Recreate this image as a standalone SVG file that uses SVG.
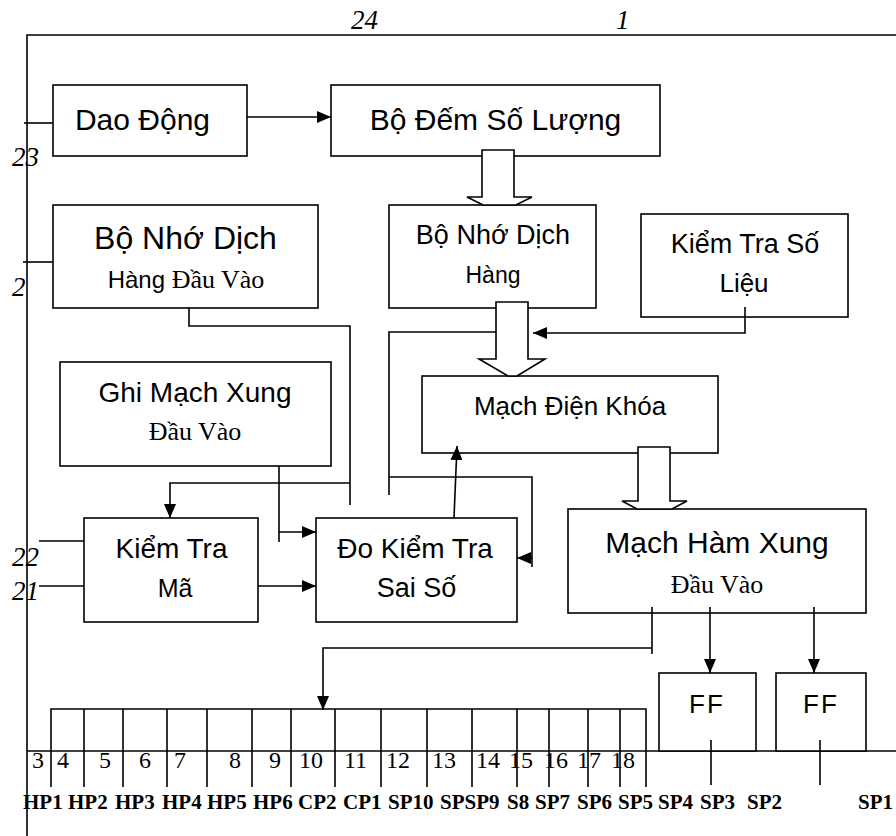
<svg xmlns="http://www.w3.org/2000/svg" width="896" height="836" viewBox="0 0 896 836">
<style>
.box{fill:#fff;stroke:#000;stroke-width:1.6}
.ln{fill:none;stroke:#000;stroke-width:1.6}
.ha{fill:#fff;stroke:#000;stroke-width:1.6;stroke-linejoin:miter}
.t{font-family:"Liberation Sans",Arial,sans-serif;fill:#000;text-anchor:middle}
.sf{font-family:"Liberation Serif","Times New Roman",serif}
.num{font-family:"Liberation Serif","Times New Roman",serif;font-size:24px;fill:#000}
.it{font-family:"Liberation Serif","Times New Roman",serif;font-style:italic;font-size:27px;fill:#000}
.lab{font-family:"Liberation Serif","Times New Roman",serif;font-weight:bold;font-size:21px;fill:#000}
</style>
<defs>
<marker id="ah" markerUnits="userSpaceOnUse" markerWidth="14" markerHeight="12" refX="14" refY="6" orient="auto">
<path d="M0,0 L14,6 L0,12 z" fill="#000"/>
</marker>
</defs>
<rect width="896" height="836" fill="#fff"/>

<g id="frame" class="ln">
<path d="M27,836 V35 H896"/>
<path d="M27,751 H896"/>
</g>
<g id="frame-labels">
<text class="it" x="351" y="29">24</text>
<text class="it" x="616" y="29">1</text>
<text class="it" x="12" y="166">23</text>
<text class="it" x="12" y="296">2</text>
<text class="it" x="12" y="566">22</text>
<text class="it" x="12" y="600">21</text>
</g>

<g id="dao-dong">
<rect class="box" x="53" y="85" width="194" height="71"/>
<text class="t" x="142.5" y="130" font-size="30">Dao Động</text>
</g>
<g id="bo-dem">
<rect class="box" x="331" y="85" width="329" height="71"/>
<text class="t" x="495.5" y="130" font-size="30">Bộ Đếm Số Lượng</text>
</g>
<g id="bo-nho-dau-vao">
<rect class="box" x="53" y="205" width="265" height="103"/>
<text class="t" x="185.5" y="249" font-size="32">Bộ Nhớ Dịch</text>
<text class="t" x="186" y="288" font-size="24">Hàng <tspan class="sf" font-size="26">Đầu Vào</tspan></text>
</g>
<g id="bo-nho-hang">
<rect class="box" x="389" y="205" width="207" height="103"/>
<text class="t" x="493" y="244" font-size="27">Bộ Nhớ Dịch</text>
<text class="t" x="493" y="283" font-size="23">Hàng</text>
</g>
<g id="kiem-tra-so-lieu">
<rect class="box" x="641" y="214" width="207" height="103"/>
<text class="t" x="745" y="253" font-size="27">Kiểm Tra Số</text>
<text class="t" x="744" y="291.5" font-size="26">Liệu</text>
</g>
<g id="ghi-mach">
<rect class="box" x="60" y="362" width="271" height="104"/>
<text class="t" x="195" y="401.5" font-size="28">Ghi Mạch Xung</text>
<text class="t sf" x="195" y="440" font-size="26">Đầu Vào</text>
</g>
<g id="mach-dien-khoa">
<rect class="box" x="422" y="376" width="296" height="77"/>
<text class="t" x="570" y="415" font-size="26">Mạch Điện Khóa</text>
</g>
<g id="kiem-tra-ma">
<rect class="box" x="84" y="518" width="174" height="104"/>
<text class="t" x="171.5" y="558" font-size="28">Kiểm Tra</text>
<text class="t" x="175" y="597" font-size="25">Mã</text>
</g>
<g id="do-kiem-tra">
<rect class="box" x="316" y="518" width="201" height="104"/>
<text class="t" x="415" y="558" font-size="28">Đo Kiểm Tra</text>
<text class="t" x="416.5" y="597" font-size="27">Sai Số</text>
</g>
<g id="mach-ham-xung">
<rect class="box" x="568" y="509" width="298" height="104"/>
<text class="t" x="717" y="553" font-size="30">Mạch Hàm Xung</text>
<text class="t sf" x="717" y="593" font-size="26">Đầu Vào</text>
</g>
<g id="ff1">
<rect class="box" x="659" y="673" width="97" height="78"/>
<text class="t" x="707" y="713" font-size="26" letter-spacing="2">FF</text>
</g>
<g id="ff2">
<rect class="box" x="776" y="673" width="90" height="78"/>
<text class="t" x="821" y="713" font-size="26" letter-spacing="2">FF</text>
</g>

<g id="pin-strip">
<path class="ln" d="M51,787 V709 H646 V787 M84,709 V787 M123,709 V787 M167,709 V787 M207,709 V787 M252,709 V787 M291,709 V787 M335,709 V787 M381,709 V787 M427,709 V787 M472,709 V787 M517,709 V787 M549,709 V787 M588,709 V787 M620,709 V787"/>
<text class="num" x="32" y="768">3</text>
<text class="num" x="57" y="768">4</text>
<text class="num" x="99" y="768">5</text>
<text class="num" x="139" y="768">6</text>
<text class="num" x="174" y="768">7</text>
<text class="num" x="229" y="768">8</text>
<text class="num" x="269" y="768">9</text>
<text class="num" x="299" y="768">10</text>
<text class="num" x="344" y="768">11</text>
<text class="num" x="386" y="768">12</text>
<text class="num" x="432" y="768">13</text>
<text class="num" x="476" y="768">14</text>
<text class="num" x="509" y="768">15</text>
<text class="num" x="544" y="768">16</text>
<text class="num" x="577" y="768">17</text>
<text class="num" x="611" y="768">18</text>
<text class="lab" x="23" y="809">HP1</text>
<text class="lab" x="68" y="809">HP2</text>
<text class="lab" x="115" y="809">HP3</text>
<text class="lab" x="162" y="809">HP4</text>
<text class="lab" x="207" y="809">HP5</text>
<text class="lab" x="253" y="809">HP6</text>
<text class="lab" x="298" y="809">CP2</text>
<text class="lab" x="343" y="809">CP1</text>
<text class="lab" x="388" y="809">SP10</text>
<text class="lab" x="440" y="809">SPSP9</text>
<text class="lab" x="507" y="809">S8</text>
<text class="lab" x="535" y="809">SP7</text>
<text class="lab" x="577" y="809">SP6</text>
<text class="lab" x="618" y="809">SP5</text>
<text class="lab" x="658" y="809">SP4</text>
<text class="lab" x="700" y="809">SP3</text>
<text class="lab" x="747" y="809">SP2</text>
<text class="lab" x="858" y="809">SP1</text>
</g>

<g id="connectors">
<path class="ln" d="M24,123 H53"/>
<path class="ln" d="M247,117 H331" marker-end="url(#ah)"/>
<path class="ln" d="M23,262 H53"/>
<path class="ln" d="M189,307 V326 H350 V505"/>
<path class="ln" d="M350,483 H170 V518" marker-end="url(#ah)"/>
<path class="ln" d="M279,466 V542"/>
<path class="ln" d="M279,532 H316" marker-end="url(#ah)"/>
<path class="ln" d="M39,541 H84"/>
<path class="ln" d="M39,586 H84"/>
<path class="ln" d="M258,586 H316" marker-end="url(#ah)"/>
<path class="ln" d="M745,307 V333 H533" marker-end="url(#ah)"/>
<path class="ln" d="M496,332 H389 V495"/>
<path class="ln" d="M389,477 H532 V567"/>
<path class="ln" d="M532,558 H517" marker-end="url(#ah)"/>
<path class="ln" d="M454,518 L457,446" marker-end="url(#ah)"/>
<path class="ln" d="M652,607 V654"/>
<path class="ln" d="M652,648 H323 V710" marker-end="url(#ah)"/>
<path class="ln" d="M710,607 V673" marker-end="url(#ah)"/>
<path class="ln" d="M814,607 V673" marker-end="url(#ah)"/>
<path class="ln" d="M711,740 V785"/>
<path class="ln" d="M820,740 V785"/>
<polygon class="ha" points="482,150 514,150 514,197 532,197 516,205 483,205 467,197 482,197"/>
<polygon class="ha" points="496,302 528,302 528,359 545,359 517,376 508,376 479,359 496,359"/>
<polygon class="ha" points="638,447 670,447 670,501 687,501 672,509 637,509 622,501 638,501"/>
</g>
</svg>
